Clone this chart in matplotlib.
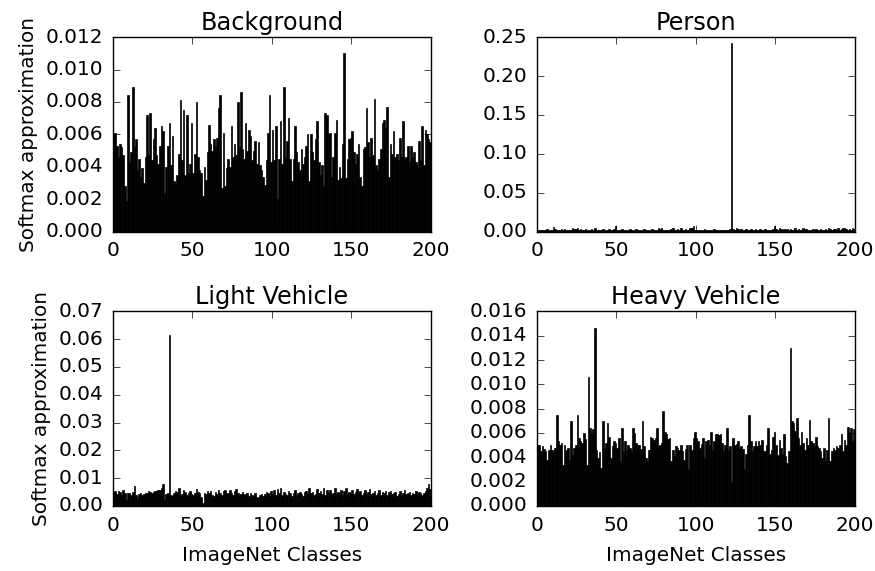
import numpy as np
import matplotlib
matplotlib.use('Agg')
import matplotlib.pyplot as plt

# softmax approximations per ImageNet class (values in units of 1e-3)
background = [
    6.1, 6.1, 5.3, 4.6, 5.4, 5.2, 4.7, 2.8, 1.9, 8.4,
    4.3, 4.9, 8.9, 5.2, 5.7, 3.8, 4.5, 3.4, 3.9, 3.0,
    4.6, 7.2, 4.7, 7.3, 4.4, 5.7, 6.4, 4.7, 4.2, 5.3,
    6.5, 6.2, 2.4, 4.0, 5.3, 6.7, 4.1, 5.9, 3.1, 3.0,
    3.5, 4.8, 8.1, 4.4, 7.5, 3.5, 7.2, 3.6, 4.2, 6.7,
    3.6, 4.8, 8.0, 4.6, 3.8, 3.6, 2.2, 4.0, 3.2, 4.9,
    6.6, 5.4, 5.0, 5.7, 5.3, 5.8, 7.6, 8.4, 2.7, 6.1,
    2.8, 3.9, 4.5, 4.0, 6.5, 4.6, 5.4, 4.7, 8.0, 5.2,
    8.6, 5.1, 4.5, 6.7, 5.0, 6.3, 5.9, 4.4, 5.0, 5.6,
    4.2, 5.5, 4.1, 3.8, 3.4, 2.9, 4.4, 6.1, 8.4, 4.3,
    6.3, 4.4, 6.5, 2.0, 4.5, 6.8, 4.2, 8.9, 4.6, 5.6,
    7.0, 4.5, 3.1, 4.5, 6.5, 4.9, 4.3, 3.8, 5.1, 4.2,
    4.6, 5.3, 6.0, 3.1, 6.0, 4.9, 4.4, 5.7, 6.8, 4.3,
    3.5, 4.1, 2.8, 7.3, 7.2, 6.0, 6.1, 3.4, 4.6, 6.1,
    6.9, 3.2, 4.0, 3.3, 5.4, 11.0, 3.3, 4.5, 5.7, 5.8,
    6.2, 4.9, 4.2, 4.8, 5.4, 3.4, 2.8, 5.1, 5.2, 7.6,
    5.5, 4.6, 5.8, 4.7, 8.2, 4.1, 3.8, 4.5, 5.1, 6.7,
    6.9, 6.4, 7.7, 3.4, 5.4, 4.8, 6.2, 4.6, 4.8, 4.4,
    5.8, 4.6, 6.8, 4.5, 4.6, 5.3, 4.3, 5.3, 4.6, 4.9,
    4.3, 4.1, 5.6, 4.4, 6.5, 4.1, 6.3, 6.0, 5.7, 5.5,
]
person = [
    2.0, 1.5, 2.5, 1.8, 2.2, 1.6, 2.8, 1.9, 2.4, 2.1,
    5.5, 3.0, 2.2, 1.8, 2.6, 4.0, 2.1, 3.5, 2.4, 1.7,
    2.0, 2.7, 4.5, 3.8, 2.9, 4.2, 2.3, 3.6, 2.5, 1.8,
    3.9, 2.2, 2.0, 1.6, 2.8, 2.4, 4.1, 2.0, 2.6, 1.9,
    2.3, 3.0, 2.1, 2.5, 1.7, 3.4, 2.2, 2.0, 2.9, 7.0,
    2.4, 1.9, 2.2, 3.8, 2.6, 2.0, 2.3, 1.8, 3.5, 2.1,
    2.5, 1.7, 3.2, 2.3, 2.0, 2.7, 1.9, 3.6, 2.2, 2.0,
    2.4, 2.1, 3.3, 1.8, 2.6, 2.2, 4.8, 3.4, 4.5, 2.3,
    2.0, 2.5, 1.9, 2.2, 3.6, 4.2, 2.4, 2.0, 3.9, 2.6,
    4.8, 2.1, 2.3, 3.0, 1.8, 2.2, 4.2, 5.0, 7.5, 2.4,
    2.0, 1.7, 2.6, 1.9, 2.2, 3.1, 2.0, 2.3, 1.8, 2.4,
    2.1, 2.8, 1.9, 2.2, 2.5, 1.8, 2.0, 2.3, 1.6, 2.4,
    2.2, 2.9, 243.0, 3.0, 2.4, 4.5, 3.8, 2.2, 3.5, 2.0,
    2.3, 3.8, 2.1, 2.6, 3.4, 2.0, 2.2, 3.2, 2.4, 1.9,
    2.8, 2.1, 2.5, 3.6, 2.0, 2.3, 1.8, 2.2, 4.0, 7.0,
    3.0, 2.6, 4.2, 3.8, 2.4, 3.5, 2.0, 3.7, 2.2, 3.9,
    2.5, 2.1, 4.6, 2.3, 3.0, 2.0, 2.4, 4.4, 3.2, 3.8,
    2.2, 2.7, 2.0, 3.1, 2.4, 4.0, 2.6, 2.1, 3.4, 2.3,
    2.0, 3.6, 2.5, 4.4, 3.1, 2.2, 2.8, 3.9, 2.4, 4.6,
    2.0, 3.3, 4.5, 5.2, 3.0, 2.4, 3.8, 2.2, 4.1, 3.0,
]
light_vehicle = [
    5.0, 5.2, 4.4, 5.3, 5.0, 4.0, 5.8, 4.6, 2.2, 4.8,
    4.5, 4.0, 5.1, 7.2, 4.0, 2.8, 4.2, 4.6, 4.0, 4.3,
    4.8, 4.5, 5.2, 4.9, 4.8, 5.0, 5.2, 5.5, 5.8, 5.6,
    6.4, 7.8, 2.2, 4.3, 4.6, 61.4, 4.0, 3.6, 4.6, 5.2,
    4.9, 6.4, 4.0, 4.4, 5.8, 5.0, 4.0, 4.8, 5.2, 4.4,
    4.0, 4.8, 6.0, 5.0, 4.6, 3.2, 1.0, 4.6, 4.2, 5.2,
    4.8, 5.5, 4.1, 3.6, 5.0, 4.4, 5.6, 4.7, 3.9, 5.2,
    5.9, 4.3, 4.8, 5.7, 4.5, 4.0, 5.2, 6.1, 4.6, 3.8,
    4.4, 5.0, 4.2, 3.9, 4.6, 3.4, 4.8, 4.1, 3.7, 4.5,
    3.3, 2.8, 3.9, 4.4, 3.6, 4.2, 5.0, 4.6, 3.8, 5.3,
    4.2, 5.6, 4.0, 6.1, 4.5, 6.3, 3.9, 5.1, 4.4, 4.0,
    5.4, 4.7, 3.5, 4.8, 5.8, 4.1, 4.6, 5.0, 4.2, 3.6,
    4.9, 5.5, 4.3, 6.4, 4.6, 5.1, 3.8, 4.4, 6.2, 4.7,
    5.3, 4.2, 6.5, 4.0, 5.6, 4.8, 5.9, 3.9, 4.5, 6.6,
    4.3, 5.0, 4.6, 5.8, 4.1, 5.2, 6.3, 4.4, 5.0, 4.8,
    5.7, 4.2, 4.9, 6.0, 4.5, 5.3, 4.0, 4.7, 5.6, 4.3,
    5.0, 6.2, 4.4, 4.8, 5.3, 3.9, 4.6, 5.8, 4.1, 5.0,
    4.5, 5.4, 3.8, 4.9, 5.5, 4.2, 4.7, 5.0, 3.6, 4.4,
    5.2, 4.0, 4.8, 5.6, 4.3, 4.7, 5.0, 4.1, 4.6, 4.4,
    5.3, 4.2, 4.9, 4.5, 3.9, 4.6, 5.2, 6.6, 7.8, 6.0,
]
heavy_vehicle = [
    5.0, 5.0, 4.5, 4.9, 4.7, 4.5, 3.8, 4.6, 5.0, 4.6,
    4.4, 4.8, 7.5, 5.3, 5.0, 5.2, 3.4, 5.0, 4.6, 4.8,
    3.8, 7.0, 4.2, 4.8, 5.0, 7.5, 5.6, 5.3, 5.2, 6.0,
    5.5, 3.4, 10.6, 6.4, 6.0, 6.3, 14.6, 4.6, 3.9, 4.4,
    3.1, 7.0, 4.8, 5.2, 6.8, 5.7, 3.9, 4.9, 5.3, 5.2,
    4.8, 5.6, 3.7, 6.4, 4.5, 5.3, 4.6, 5.0, 4.8, 4.5,
    6.4, 6.0, 5.2, 5.0, 5.0, 4.7, 7.0, 4.9, 3.9, 3.7,
    4.6, 5.7, 5.6, 5.4, 5.6, 6.4, 4.9, 5.0, 5.2, 7.8,
    6.1, 5.9, 5.5, 5.6, 3.7, 4.6, 4.1, 4.9, 4.8, 4.6,
    5.0, 4.5, 3.8, 4.7, 5.0, 3.0, 5.0, 4.6, 5.6, 6.1,
    5.6, 5.3, 4.8, 5.1, 5.6, 3.9, 5.3, 5.4, 5.0, 6.1,
    4.6, 5.3, 5.9, 5.9, 5.8, 5.9, 5.2, 4.5, 5.0, 6.4,
    4.6, 4.9, 2.0, 5.6, 5.0, 5.1, 5.3, 4.8, 4.9, 4.7,
    3.0, 4.3, 5.0, 7.5, 5.3, 4.5, 4.9, 5.3, 4.9, 5.3,
    5.0, 5.4, 4.5, 4.5, 5.0, 6.4, 4.3, 4.6, 5.7, 6.1,
    5.0, 4.2, 5.4, 4.8, 4.3, 5.9, 4.1, 3.5, 4.5, 13.0,
    7.0, 6.8, 6.2, 7.2, 5.6, 5.0, 6.1, 5.2, 4.6, 5.6,
    5.0, 7.1, 5.3, 5.2, 4.9, 5.7, 4.9, 4.8, 4.5, 3.9,
    4.8, 3.7, 4.6, 7.2, 3.7, 4.5, 4.8, 4.6, 4.9, 4.8,
    5.0, 5.9, 4.5, 5.4, 5.0, 6.5, 6.0, 6.4, 5.3, 6.3,
]

titles = ["Background", "Person", "Light Vehicle", "Heavy Vehicle"]
series = [background, person, light_vehicle, heavy_vehicle]
ylims = [0.012, 0.25, 0.07, 0.016]
ysteps = [0.002, 0.05, 0.01, 0.002]
yfmt = ["%.3f", "%.2f", "%.2f", "%.3f"]

plt.style.use('classic')
plt.rcParams['figure.facecolor'] = 'white'
plt.rcParams['savefig.facecolor'] = 'white'
plt.rcParams['xtick.major.size'] = 5
plt.rcParams['ytick.major.size'] = 5

fig, axes = plt.subplots(2, 2, figsize=(8.75, 5.71), dpi=100)
fig.subplots_adjust(left=0.129, right=0.977, top=0.935, bottom=0.114,
                    wspace=0.333, hspace=0.41)

for k, ax in enumerate(axes.flat):
    vals = np.array(series[k]) / 1000.0
    idx = np.arange(len(vals))
    ax.bar(idx, vals, width=1.0, align='edge', color='k', edgecolor='k', linewidth=0.5)
    ax.set_xlim(0, 200)
    ax.set_ylim(0, ylims[k])
    ax.set_xticks([0, 50, 100, 150, 200])
    ax.set_yticks(np.arange(0, ylims[k] + ysteps[k] / 2, ysteps[k]))
    ax.yaxis.set_major_formatter(matplotlib.ticker.FormatStrFormatter(yfmt[k]))
    ax.tick_params(labelsize=14.4, pad=7)
    ax.set_title(titles[k], fontsize=17.3)
    if k % 2 == 0:
        ax.set_ylabel("Softmax approximation", fontsize=14.4)
    if k >= 2:
        ax.set_xlabel("ImageNet Classes", fontsize=14.4, labelpad=8)

fig.savefig("out.png", dpi=100)
